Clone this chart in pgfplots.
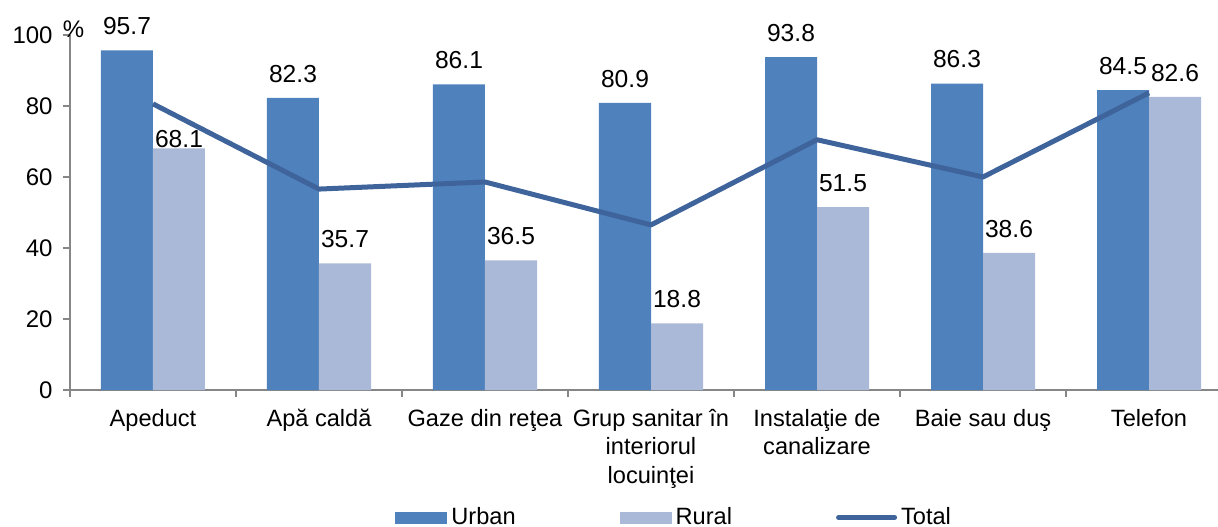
\documentclass[border=0pt]{standalone}
\usepackage{fontspec}
\setmainfont{Liberation Sans}
\usepackage{pgfplots}
\usepackage{pgfplotstable}
\pgfplotsset{compat=1.18}
\definecolor{urbanc}{RGB}{79,129,189}
\definecolor{ruralc}{RGB}{170,185,215}
\definecolor{totalc}{RGB}{62,100,155}
\definecolor{axisgray}{RGB}{134,134,134}

\pgfplotstableread{
x u r t ry
0 95.7 68.1 80.6 0
1 82.3 35.7 56.6 7.5
2 86.1 36.5 58.6 7.5
3 80.9 18.8 46.5 7.5
4 93.8 51.5 70.5 7.5
5 86.3 38.6 60.0 7.5
6 84.5 82.6 83.7 7.5
}\data

\begin{document}
\begin{tikzpicture}
\begin{axis}[
 name=ax,
 scale only axis, width=581pt, height=177.5pt,
 xmin=-0.5, xmax=6.5, ymin=0, ymax=100,
 axis x line*=bottom, axis y line*=left,
 axis line style={draw=axisgray, line width=0.8pt},
 tick style={draw=axisgray, line width=0.8pt},
 tick align=outside, major tick length=3.5pt,
 ytick={0,20,...,100},
 xtick={-0.5,0.5,...,6.5},
 x tick label as interval,
 xticklabels={Apeduct, Apă caldă, Gaze din reţea, {Grup sanitar în\\interiorul\\locuinţei}, {Instalaţie de\\canalizare}, Baie sau duş, Telefon},
 xticklabel style={font=\fontsize{11.8}{14.2}\selectfont, align=center, inner sep=0pt, yshift=-6pt},
 yticklabel style={font=\fontsize{12}{14}\selectfont, inner sep=0pt, xshift=-5pt},
 /pgf/number format/assume math mode=true,
 clip=false,
 legend columns=3,
 legend style={draw=none, fill=none, at={(axis description cs:0,0)}, anchor=west, xshift=159.5pt, yshift=-63.75pt, font=\fontsize{11.8}{14}\selectfont, /tikz/every even column/.append style={column sep=50pt}},
]
\addplot[ybar, bar width=26pt, bar shift=-13pt, fill=urbanc, draw=none,
  nodes near coords, point meta=y,
  every node near coord/.append style={font=\fontsize{12.3}{14}\selectfont, inner sep=0pt, anchor=south, xshift=-13pt, yshift=7.5pt, /pgf/number format/fixed, /pgf/number format/fixed zerofill, /pgf/number format/precision=1},
  legend image code/.code={\fill[urbanc] (0pt,-3pt) rectangle (26pt,3pt);}
] table[x=x, y=u] {\data};
\addlegendentry{Urban}
\addplot[ybar, bar width=26pt, bar shift=13pt, fill=ruralc, draw=none,
  nodes near coords, point meta=y,
  visualization depends on={\thisrow{ry} \as \ry},
  every node near coord/.append style={font=\fontsize{12.3}{14}\selectfont, inner sep=0pt, anchor=south, xshift=13pt, yshift=\ry pt, /pgf/number format/fixed, /pgf/number format/fixed zerofill, /pgf/number format/precision=1},
  legend image code/.code={\fill[ruralc] (0pt,-3pt) rectangle (26pt,3pt);}
] table[x=x, y=r] {\data};
\addlegendentry{Rural}
\addplot[color=totalc, line width=2.5pt, mark=none, line join=round,
  legend image code/.code={\draw[totalc, line width=2.5pt, line cap=round] (0pt,0pt) -- (28pt,0pt);}
] table[x=x, y=t] {\data};
\addlegendentry{Total}
\end{axis}
\node[anchor=base, inner sep=0pt, font=\fontsize{12}{14}\selectfont] at ([xshift=1.75pt, yshift=-1pt]ax.north west) {\%};
\pgfresetboundingbox
\path[use as bounding box] ([xshift=-35pt,yshift=-68pt]ax.south west) rectangle ([xshift=574pt,yshift=17.5pt]ax.north west);
\end{tikzpicture}
\end{document}
